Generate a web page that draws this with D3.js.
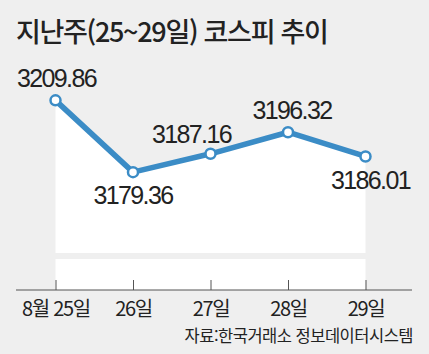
<!DOCTYPE html>
<html lang="ko">
<head>
  <meta charset="UTF-8" />
  <title>코스피 추이</title>
  <script src="https://d3js.org/d3.v7.min.js" charset="utf-8"></script>
  <style type="text/css">
  body { margin: 0; background: #efefef; }
  svg { display: block; background: #efefef; }
  .num { font-family: "Liberation Sans", sans-serif; fill: #222; }
  .kr { font-family: "Noto Sans CJK KR", sans-serif; fill: #222; }
  </style>
</head>
<body>
<script type="text/javascript">

// data
var days = ["8월 25일", "26일", "27일", "28일", "29일"];
var kospi = [3209.86, 3179.36, 3187.16, 3196.32, 3186.01];
var titleText = "지난주(25~29일) 코스피 추이";
var sourceText = "자료:한국거래소 정보데이터시스템";

var width = 429, height = 354;
var margin = {left: 16, right: 17};
var axisY = 290;

var svg = d3.select("body").append("svg")
  .attr("width", width)
  .attr("height", height);

var x = d3.scalePoint()
  .domain(days)
  .range([55.5, 365.5]);

var y = d3.scaleLinear()
  .domain([3145, 3220])
  .range([253, 76.5]);

var pts = days.map(function(d, i) { return {day: d, v: kospi[i]}; });

// title
svg.append("text")
  .attr("class", "kr")
  .attr("x", margin.left)
  .attr("y", 42)
  .style("font-size", "27px")
  .style("font-weight", 500)
  .style("letter-spacing", "-1.3px")
  .text(titleText);

// white area under the line
var area = d3.area()
  .x(function(d) { return x(d.day); })
  .y0(y(3145))
  .y1(function(d) { return y(d.v); });

svg.append("path")
  .datum(pts)
  .attr("fill", "#fff")
  .attr("d", area);

// lower white band (axis break)
svg.append("rect")
  .attr("x", x.range()[0])
  .attr("y", y(3145) + 6)
  .attr("width", x.range()[1] - x.range()[0])
  .attr("height", axisY - y(3145) - 6)
  .attr("fill", "#fff");

// axis
var xAxis = svg.append("g")
  .attr("transform", "translate(0," + axisY + ")")
  .call(d3.axisBottom(x).tickSizeInner(-10).tickSizeOuter(0).tickPadding(8));

xAxis.select(".domain").remove();
xAxis.selectAll(".tick line").attr("stroke", "#555");
xAxis.selectAll(".tick text")
  .attr("class", "kr")
  .attr("dy", "0.9em")
  .style("font-size", "20px")
  .style("letter-spacing", "-1.3px")
  .attr("fill", "#222");

xAxis.append("line")
  .attr("x1", margin.left)
  .attr("x2", width - margin.right)
  .attr("stroke", "#555")
  .attr("stroke-width", 1.2);

// line
var line = d3.line()
  .x(function(d) { return x(d.day); })
  .y(function(d) { return y(d.v); });

svg.append("path")
  .datum(pts)
  .attr("fill", "none")
  .attr("stroke", "#3b8cc6")
  .attr("stroke-width", 5.5)
  .attr("stroke-linejoin", "round")
  .attr("d", line);

svg.selectAll("circle.pt")
  .data(pts)
  .enter().append("circle")
  .attr("class", "pt")
  .attr("cx", function(d) { return x(d.day); })
  .attr("cy", function(d) { return y(d.v); })
  .attr("r", 5)
  .attr("fill", "#fff")
  .attr("stroke", "#3b8cc6")
  .attr("stroke-width", 2.5);

// value labels: above or below the point
var labelDx = [1, 0, -19, 4, 5];
var labelDy = [-13, 32, -11, -13, 33];

svg.selectAll("text.val")
  .data(pts)
  .enter().append("text")
  .attr("class", "num val")
  .attr("x", function(d, i) { return x(d.day) + labelDx[i]; })
  .attr("y", function(d, i) { return y(d.v) + labelDy[i]; })
  .attr("text-anchor", "middle")
  .style("font-size", "25px")
  .style("letter-spacing", "-1.6px")
  .text(function(d) { return d.v.toFixed(2); });

// source
svg.append("text")
  .attr("class", "kr")
  .attr("x", width - margin.right + 1)
  .attr("y", 342)
  .attr("text-anchor", "end")
  .style("font-size", "16.5px")
  .style("letter-spacing", "-0.5px")
  .text(sourceText);

</script>
</body>
</html>
